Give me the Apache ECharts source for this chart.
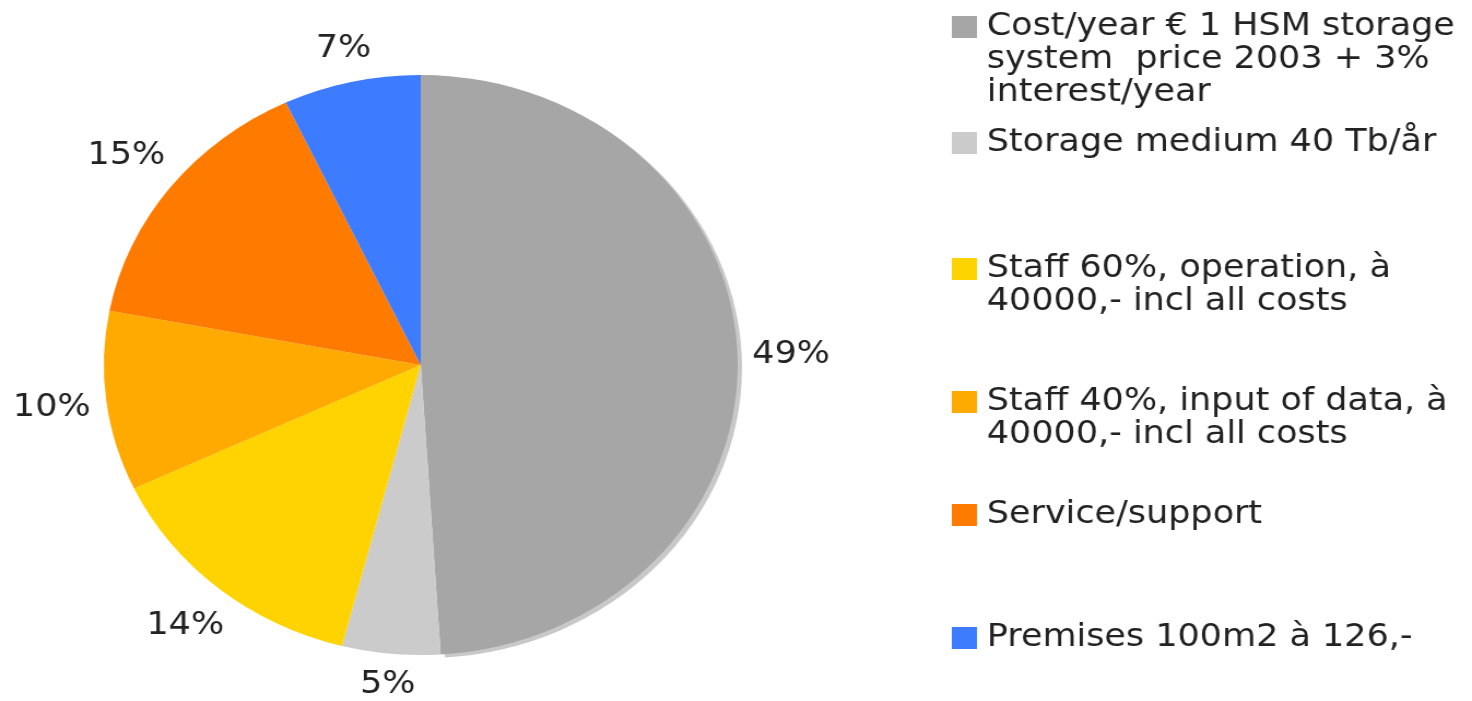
<!DOCTYPE html>
<html>
<head>
<meta charset="utf-8">
<script src="https://cdn.jsdelivr.net/npm/echarts@6/dist/echarts.min.js"></script>
<style>
    html, body { margin: 0; padding: 0; background: #fff; overflow: hidden; }
    /* the source picture is stretched a bit sideways, so stretch the canvas the same way */
    #chart { width: 1347px; height: 701px; transform: scaleX(1.0928); transform-origin: 0 0; }
</style>
</head>
<body>
<div id="chart"></div>
<script>
// data
const categories = [
    'Cost/year € 1 HSM storage\nsystem  price 2003 + 3%\ninterest/year',
    'Storage medium 40 Tb/år',
    'Staff 60%, operation, à\n40000,- incl all costs',
    'Staff 40%, input of data, à\n40000,- incl all costs',
    'Service/support',
    'Premises 100m2 à 126,-'
];
const shares = [49, 5, 14, 10, 15, 7];

// look
const colors = ['#a6a6a6', '#cbcbcb', '#ffd300', '#ffaa00', '#ff7b00', '#3d7bff'];
const legendCenters = [24, 140, 266, 399, 512, 635]; // y of first text line of each legend entry
const lineH = 33;
const fontSize = 32;
const font = 'DejaVu Sans, Verdana, sans-serif';
const pieCenter = [385, 365];
const pieRadius = 290;
const labelGap = 13;

const chart = echarts.init(document.getElementById('chart'));

// one legend per entry, the entries are not evenly spaced in the source
const legends = categories.map((name, i) => {
    const n = name.split('\n').length;
    return {
        data: [name],
        orient: 'vertical',
        left: 871,
        top: legendCenters[i] - 13,
        padding: 0,
        icon: 'rect',
        itemWidth: 23,
        itemHeight: 22,
        selectedMode: false,
        // rich text so the top padding pushes the lines down: swatch sits on the first line
        formatter: (nm) => nm.split('\n').map((s) => '{t|' + s + '}').join('\n'),
        textStyle: {
            padding: [(n - 1) * lineH, 0, 0, 4],
            rich: {
                t: { fontFamily: font, fontSize: fontSize, color: '#222', lineHeight: lineH }
            }
        }
    };
});

const option = {
    animation: false,
    color: colors,
    legend: legends,
    series: [
        {
            name: 'cost',
            type: 'pie',
            center: pieCenter,
            radius: pieRadius,
            startAngle: 90,
            clockwise: true,
            avoidLabelOverlap: false,
            label: {
                show: true,
                position: 'inside',
                fontFamily: font,
                fontSize: fontSize,
                color: '#222',
                formatter: (p) => p.value + '%'
            },
            // push each label out along its slice direction so its box sits just outside the rim
            labelLayout: (p) => {
                const r = p.labelRect;
                const vx = r.x + r.width / 2 - pieCenter[0];
                const vy = r.y + r.height / 2 - pieCenter[1];
                const len = Math.hypot(vx, vy);
                const ux = vx / len, uy = vy / len;
                const d = pieRadius + labelGap + Math.abs(ux) * r.width / 2 + Math.abs(uy) * r.height / 2;
                return {
                    x: pieCenter[0] + d * ux,
                    y: pieCenter[1] + d * uy,
                    align: 'center',
                    verticalAlign: 'middle'
                };
            },
            labelLine: { show: false },
            emphasis: { disabled: true },
            data: shares.map((v, i) => ({
                value: v,
                name: categories[i],
                itemStyle: i === 0
                    ? { shadowColor: '#c8c8c8', shadowOffsetX: 4, shadowOffsetY: 3, shadowBlur: 0 }
                    : {}
            }))
        }
    ]
};

chart.setOption(option);
</script>
</body>
</html>
